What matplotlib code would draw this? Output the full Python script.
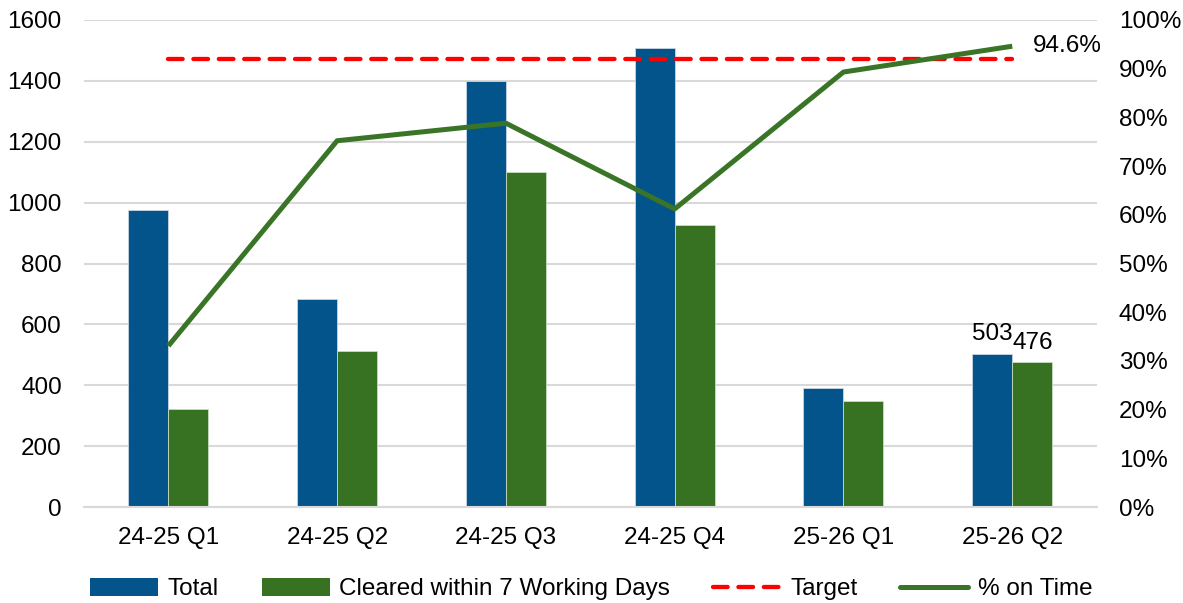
import matplotlib
matplotlib.use("Agg")
import matplotlib.pyplot as plt
from matplotlib.ticker import FuncFormatter
from matplotlib.lines import Line2D
from matplotlib.patches import Patch
import numpy as np

quarters = ["24-25 Q1", "24-25 Q2", "24-25 Q3", "24-25 Q4", "25-26 Q1", "25-26 Q2"]
total = [975, 682, 1400, 1508, 390, 503]
cleared = [323, 514, 1100, 927, 348, 476]
pct_on_time = [33.1, 75.2, 78.8, 61.2, 89.3, 94.6]
target = [92.0] * 6

blue = "#02548a"
green = "#367222"
line_green = "#3a7527"
fs = 17.5

plt.rcParams['font.family'] = ['Liberation Sans', 'DejaVu Sans']

fig = plt.figure(figsize=(11.83, 6.03), dpi=100)
ax = fig.add_axes([0.071, 0.159, 0.856, 0.808])
x = np.arange(len(quarters))
w = 0.237

ax.bar(x - w / 2, total, w, color=blue, edgecolor="#c8d6e2", linewidth=0.6, zorder=2)
ax.bar(x + w / 2, cleared, w, color=green, edgecolor="#c8dcc0", linewidth=0.6, zorder=2)

ax.set_ylim(0, 1600)
ax.set_yticks(range(0, 1601, 200))
ax.set_xlim(-0.5, 5.5)
ax.set_xticks(x)
ax.set_xticklabels(quarters)
ax.yaxis.grid(True, color="#d9d9d9", linewidth=1.5, zorder=0)
ax.set_axisbelow(True)
for s in ["top", "right", "left"]:
    ax.spines[s].set_visible(False)
ax.spines["bottom"].set_color("#d9d9d9")
ax.spines["bottom"].set_linewidth(1.5)
ax.tick_params(axis="both", length=0, labelsize=fs, colors="black")
ax.tick_params(axis="x", pad=14)
ax.tick_params(axis="y", pad=16)

# labels on the last group
ax.text(x[-1] - w / 2, total[-1] + 28, str(total[-1]), ha="center", va="bottom", fontsize=fs)
ax.text(x[-1] + w / 2, cleared[-1] + 28, str(cleared[-1]), ha="center", va="bottom", fontsize=fs)

ax2 = ax.twinx()
ax2.set_ylim(0, 100)
ax2.set_yticks(range(0, 101, 10))
ax2.yaxis.set_major_formatter(FuncFormatter(lambda v, p: "%d%%" % v))
ax2.tick_params(axis="y", length=0, labelsize=fs, pad=16)
for s in ax2.spines.values():
    s.set_visible(False)

ax2.plot(x, target, color="red", linewidth=3.1, linestyle=(0, (3.4, 2.5)),
         dash_capstyle="round", zorder=3)
ax2.plot(x, pct_on_time, color=line_green, linewidth=3.6, solid_capstyle="butt", zorder=4)
ax2.text(x[-1] + 0.12, pct_on_time[-1], "%.1f%%" % pct_on_time[-1], ha="left", va="center", fontsize=fs)

handles = [
    Patch(facecolor=blue),
    Patch(facecolor=green),
    Line2D([], [], color="red", linewidth=3.1, linestyle=(0, (3.4, 2.5)), dash_capstyle="round"),
    Line2D([], [], color=line_green, linewidth=3.6, solid_capstyle="round"),
]
labels = ["Total", "Cleared within 7 Working Days", "Target", "% on Time"]
fig.legend(handles, labels, loc="lower center", bbox_to_anchor=(0.5, -0.032), ncol=4,
           frameon=False, fontsize=fs, handlelength=2.8, handleheight=0.75,
           columnspacing=1.75, handletextpad=0.4)

fig.savefig("out.png", dpi=100)
